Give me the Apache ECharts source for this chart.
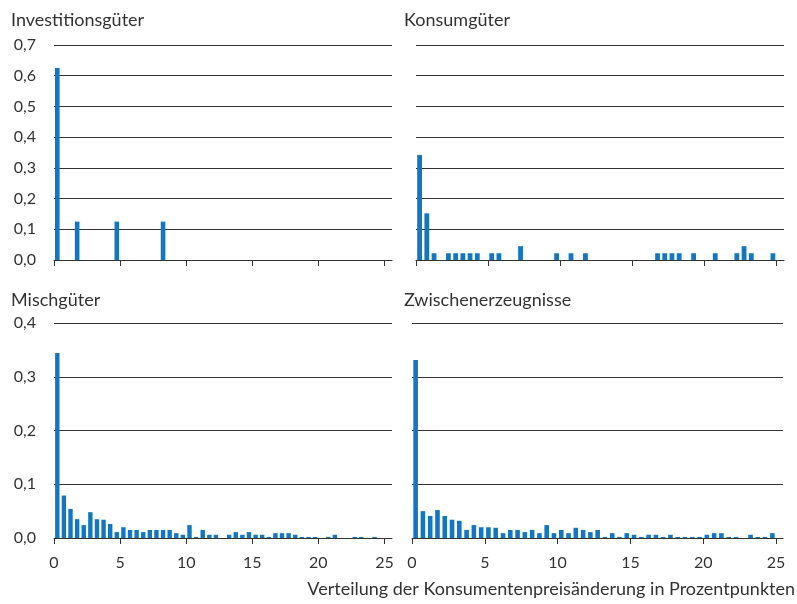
<!DOCTYPE html>
<html>
<head>
<meta charset="utf-8">
<script src="https://cdn.jsdelivr.net/npm/echarts@6/dist/echarts.min.js"></script>
<style>
html,body{margin:0;padding:0;background:#fff;}
#chart{width:797px;height:604px;}
</style>
</head>
<body>
<div id="chart"></div>
<script>
// Bin starts (percentage points), bin width 0.5
const bins = [0,0.5,1,1.5,2,2.5,3,3.5,4,4.5,5,5.5,6,6.5,7,7.5,8,8.5,9,9.5,
  10,10.5,11,11.5,12,12.5,13,13.5,14,14.5,15,15.5,16,16.5,17,17.5,18,18.5,19,19.5,
  20,20.5,21,21.5,22,22.5,23,23.5,24,24.5];
const binWidth = 0.5;

const panelTitles = ['Investitionsgüter','Konsumgüter','Mischgüter','Zwischenerzeugnisse'];
const xTicks = [0,5,10,15,20,25];
const yTicksTop = [0,0.1,0.2,0.3,0.4,0.5,0.6,0.7];
const yTicksBottom = [0,0.1,0.2,0.3,0.4];
const xAxisTitle = 'Verteilung der Konsumentenpreisänderung in Prozentpunkten';

const investitionsgueter = [0.625,0,0,0.125,0,0,0,0,0,0.125,
  0,0,0,0,0,0,0.125,0,0,0,
  0,0,0,0,0,0,0,0,0,0,
  0,0,0,0,0,0,0,0,0,0,
  0,0,0,0,0,0,0,0,0,0];

const konsumgueter = [0.342,0.152,0.022,0,0.022,0.022,0.022,0.022,0.022,0,
  0.022,0.022,0,0,0.045,0,0,0,0,0.022,
  0,0.022,0,0.022,0,0,0,0,0,0,
  0,0,0,0.022,0.022,0.022,0.022,0,0.022,0,
  0,0.022,0,0,0.022,0.045,0.022,0,0,0.022];

const mischgueter = [0.344,0.079,0.054,0.035,0.024,0.048,0.035,0.034,0.026,0.011,
  0.020,0.015,0.015,0.011,0.015,0.015,0.015,0.015,0.009,0.006,
  0.024,0.002,0.015,0.006,0.006,0,0.006,0.011,0.006,0.011,
  0.006,0.006,0.002,0.009,0.009,0.009,0.006,0.002,0.002,0.002,
  0,0.002,0.006,0,0,0.002,0.002,0,0.002,0];

const zwischenerzeugnisse = [0.331,0.050,0.041,0.052,0.041,0.034,0.032,0.015,0.024,0.020,
  0.020,0.019,0.009,0.015,0.015,0.011,0.015,0.009,0.024,0.009,
  0.015,0.009,0.019,0.015,0.011,0.015,0.002,0.009,0.002,0.009,
  0.006,0.002,0.006,0.006,0.002,0.006,0.002,0.002,0.002,0.002,
  0.006,0.009,0.009,0.002,0.002,0,0.006,0.002,0.002,0.009];

const seriesValues = [investitionsgueter, konsumgueter, mischgueter, zwischenerzeugnisse];

const FONT = 'Lato';
const TEXT = '#333333';
const LINE = '#333333';
const BAR = '#1276c0';

const grids = [
  {left:54, top:45, width:338, height:215, xMax:25.57, yMax:0.7, showY:true, showX:false, barW:4.6, tx:11, ty:11},
  {left:416, top:45, width:368, height:215, xMax:25.52, yMax:0.7, showY:false, showX:false, barW:4.8, tx:404, ty:11},
  {left:54, top:323, width:338, height:215, xMax:25.57, yMax:0.4, showY:true, showX:true, barW:4.4, tx:11, ty:291},
  {left:412, top:323, width:371, height:215, xMax:25.48, yMax:0.4, showY:false, showX:true, barW:4.6, tx:404, ty:291}
];

const fmt = v => v.toFixed(1).replace('.', ',');

const option = {
  animation: false,
  backgroundColor: '#ffffff',
  textStyle: {fontFamily: FONT},
  title: grids.map((g,i)=>({
    text: panelTitles[i], left: g.tx, top: g.ty, padding: 0,
    textStyle:{fontFamily:FONT, fontSize:18, fontWeight:'normal', color:TEXT}
  })),
  grid: grids.map(g=>({left:g.left, top:g.top, width:g.width, height:g.height, containLabel:false})),
  xAxis: grids.map((g,i)=>({
    type:'value', gridIndex:i, min:0, max:g.xMax, interval:5,
    axisLine:{show:true, lineStyle:{color:LINE, width:1}},
    axisTick:{show:true, length:6, customValues:xTicks, lineStyle:{color:LINE, width:1}},
    axisLabel:{show:g.showX, customValues:xTicks, margin:17, fontFamily:FONT, fontSize:16, color:TEXT,
      formatter: v => (v % 5 === 0 ? String(v) : '')},
    splitLine:{show:false}
  })),
  yAxis: grids.map((g,i)=>({
    type:'value', gridIndex:i, min:0, max:g.yMax, interval:0.1,
    axisLine:{show:false}, axisTick:{show:false},
    axisLabel:{show:g.showY, margin:18, fontFamily:FONT, fontSize:16, color:TEXT, formatter: fmt},
    splitLine:{show:true, lineStyle:{color:LINE, width:1}}
  })),
  series: grids.map((g,i)=>({
    type:'bar', xAxisIndex:i, yAxisIndex:i, barWidth:g.barW,
    itemStyle:{color:BAR},
    data: bins.map((b,k)=>[b + binWidth/2, seriesValues[i][k]]),
    z: 3
  })),
  graphic: [{
    type:'text', right:2, top:580,
    style:{text:xAxisTitle, font:'18px ' + FONT, fill:TEXT}
  }]
};

const chart = echarts.init(document.getElementById('chart'), null, {renderer:'canvas'});
chart.setOption(option);
</script>
</body>
</html>
